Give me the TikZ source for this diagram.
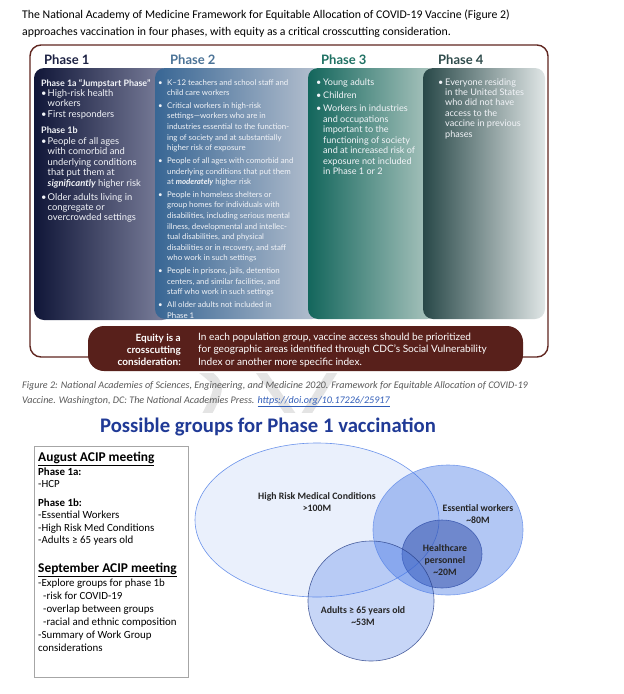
\documentclass[tikz,border=0pt]{standalone}
\usepackage{fontspec}
\setmainfont{Carlito}
\newfontfamily\lato{Lato}
\usetikzlibrary{calc}
\newcommand\fsz[2]{\fontsize{#1}{#2}\selectfont}
\newcommand\bu[1][6.5pt]{\makebox[#1][l]{•}}
\newcommand\ind[1][6.5pt]{\hspace*{#1}}
\newcommand\mlines[2][l]{\begin{tabular}[t]{@{}#1@{}}#2\end{tabular}}
\definecolor{framec}{RGB}{96,38,32}
\definecolor{barc}{RGB}{88,32,27}
\definecolor{h1c}{RGB}{28,33,67}
\definecolor{h2c}{RGB}{75,115,151}
\definecolor{h3c}{RGB}{31,113,99}
\definecolor{h4c}{RGB}{47,76,76}
\definecolor{p1l}{RGB}{16,22,56}
\definecolor{p1m}{RGB}{36,42,80}
\definecolor{p1r}{RGB}{128,132,160}
\definecolor{p2l}{RGB}{56,102,148}
\definecolor{p2m}{RGB}{100,134,170}
\definecolor{p2r}{RGB}{184,194,208}
\definecolor{p3l}{RGB}{19,102,92}
\definecolor{p3m}{RGB}{52,124,114}
\definecolor{p3r}{RGB}{176,200,194}
\definecolor{p4l}{RGB}{40,72,72}
\definecolor{p4m}{RGB}{62,92,92}
\definecolor{p4r}{RGB}{224,230,230}
\definecolor{tiletxt}{RGB}{242,244,248}
\definecolor{capc}{RGB}{89,89,89}
\definecolor{linkc}{RGB}{47,92,184}
\definecolor{titlec}{RGB}{32,58,150}
\definecolor{venb}{RGB}{70,120,230}
\definecolor{venh}{RGB}{50,80,170}
\definecolor{vtxt}{RGB}{38,38,38}
\definecolor{wmark}{RGB}{228,228,228}
\tikzset{
  tiletext/.style={anchor=base west, inner sep=0pt, text=tiletxt},
  hdr/.style={anchor=base west, inner sep=0pt, font=\lato\bfseries\fsz{13}{15}},
  boxtxt/.style={anchor=base west, inner sep=0pt, font=\fsz{10.9}{13}, text=black},
  boxhead/.style={boxtxt, font=\bfseries\fsz{13.4}{15}},
  boxsub/.style={boxtxt, font=\bfseries\fsz{10.9}{13}},
  vlab/.style={anchor=base, inner sep=0pt, font=\bfseries\fsz{9.8}{11.8}, text=vtxt},
  wm/.style={wmark, line width=9pt},
}
\begin{document}
\begin{tikzpicture}[x=1pt,y=-1pt]
\useasboundingbox (0,0) rectangle (624,694);
\fill[white] (0,0) rectangle (624,694);

% faint watermark behind the caption
\begin{scope}
\clip (150,373) rectangle (360,412);
\draw[wm] (200,368) .. controls (222,385) .. (206,416);
\draw[wm] (258,368) -- (292,416);
\draw[wm] (335,368) -- (305,416);
\end{scope}

% intro text
\node[anchor=base west, inner sep=0pt, font=\fsz{11.8}{17}] (intro) at (22,18)
  {\mlines{The National Academy of Medicine Framework for Equitable Allocation of COVID-19 Vaccine (Figure 2)\\
   approaches vaccination in four phases, with equity as a critical crosscutting consideration.}};

% frame
\draw[framec, line width=1.4pt, rounded corners=11pt] (30,45) rectangle (548,357);

% headers
\node[hdr, text=h1c] (h1) at (44,64) {Phase 1};
\node[hdr, text=h2c] (h2) at (170,64) {Phase 2};
\node[hdr, text=h3c] (h3) at (321,64) {Phase 3};
\node[hdr, text=h4c] (h4) at (438,64) {Phase 4};

% tiles
\shade[left color=p1l, middle color=p1m, right color=p1r, rounded corners=10pt] (34,68) rectangle (172,320);
\shade[left color=p2l, middle color=p2m, right color=p2r, rounded corners=10pt] (155,68) rectangle (322,319);
\shade[left color=p3l, middle color=p3m, right color=p3r, rounded corners=10pt] (308,68) rectangle (437,319);
\shade[left color=p4l, middle color=p4m, right color=p4r, rounded corners=10pt] (423,68) rectangle (545,319);

% phase 1 text
\node[tiletext, font=\lato\bfseries\fsz{8.9}{10}] (p1a) at (41,86) {Phase 1a “Jumpstart Phase”};
\node[tiletext, font=\lato\fsz{9.4}{10.3}] (p1b) at (41,96.5)
  {\mlines{\bu High-risk health\\ \ind workers\\[0.8pt] \bu First responders}};
\node[tiletext, font=\lato\bfseries\fsz{9}{10}] (p1c) at (41,133) {Phase 1b};
\node[tiletext, font=\lato\fsz{9.4}{10.4}] (p1d) at (41,144.5)
  {\mlines{\bu People of all ages\\ \ind with comorbid and\\ \ind underlying conditions\\ \ind that put them at\\
   \ind{\bfseries\itshape significantly} higher risk\\[3.5pt]
   \bu Older adults living in\\ \ind congregate or\\ \ind overcrowded settings}};

% phase 2 text
\node[tiletext, font=\lato\fsz{7.85}{10.55}] (p2) at (158,85)
  {\mlines{\bu[9pt]K–12 teachers and school staff and\\ \ind[9pt]child care workers\\[2.3pt]
   \bu[9pt]Critical workers in high-risk\\ \ind[9pt]settings—workers who are in\\
   \ind[9pt]industries essential to the function-\\ \ind[9pt]ing of society and at substantially\\
   \ind[9pt]higher risk of exposure\\[2.3pt]
   \bu[9pt]People of all ages with comorbid and\\ \ind[9pt]underlying conditions that put them\\
   \ind[9pt]at {\bfseries\itshape moderately} higher risk\\[2.3pt]
   \bu[9pt]People in homeless shelters or\\ \ind[9pt]group homes for individuals with\\
   \ind[9pt]disabilities, including serious mental\\ \ind[9pt]illness, developmental and intellec-\\
   \ind[9pt]tual disabilities, and physical\\ \ind[9pt]disabilities or in recovery, and staff\\
   \ind[9pt]who work in such settings\\[2.3pt]
   \bu[9pt]People in prisons, jails, detention\\ \ind[9pt]centers, and similar facilities, and\\
   \ind[9pt]staff who work in such settings\\[2.3pt]
   \bu[9pt]All older adults not included in\\ \ind[9pt]Phase 1}};

% phase 3 text
\node[tiletext, font=\lato\fsz{9.1}{10.5}] (p3) at (316,85)
  {\mlines{\bu[7pt]Young adults\\[2.6pt] \bu[7pt]Children\\[3.2pt]
   \bu[7pt]Workers in industries\\ \ind[7pt]and occupations\\ \ind[7pt]important to the\\
   \ind[7pt]functioning of society\\ \ind[7pt]and at increased risk of\\
   \ind[7pt]exposure not included\\ \ind[7pt]in Phase 1 or 2}};

% phase 4 text
\node[tiletext, font=\lato\fsz{9.1}{10.45}] (p4) at (438,85)
  {\mlines{\bu[7pt]Everyone residing\\ \ind[7pt]in the United States\\ \ind[7pt]who did not have\\
   \ind[7pt]access to the\\ \ind[7pt]vaccine in previous\\ \ind[7pt]phases}};

% equity bar
\fill[barc, rounded corners=16pt] (88,326) rectangle (523,371);
\node[anchor=base east, inner sep=0pt, text=white, font=\lato\bfseries\fsz{10}{12.4}] (eqa) at (181,341)
  {\mlines[r]{Equity is a\\ crosscutting\\ consideration:}};
\node[anchor=base west, inner sep=0pt, text=white, font=\lato\fsz{10.1}{12.4}] (eqb) at (198,340.5)
  {\mlines{In each population group, vaccine access should be prioritized\\
   for geographic areas identified through CDC’s Social Vulnerability\\
   Index or another more specific index.}};

% caption
\node[anchor=base west, inner sep=0pt, text=capc, font=\itshape\fsz{10.1}{15}] (cap) at (22,388)
  {\mlines{Figure 2: National Academies of Sciences, Engineering, and Medicine 2020. Framework for Equitable Allocation of COVID-19\\
   Vaccine. Washington, DC: The National Academies Press. {\color{linkc}\underline{https://doi.org/10.17226/25917}}}};

% title
\node[anchor=base, inner sep=0pt, text=titlec, font=\bfseries\fsz{20.7}{24}] (title) at (268,432)
  {Possible groups for Phase 1 vaccination};

% left box
\draw[gray!70, line width=0.8pt] (34,446) rectangle (188,677);
\node[boxhead] (aug) at (38,461.5) {\underline{August ACIP meeting}};
\node[boxsub] (ph1a) at (38,475.5) {Phase 1a:};
\node[boxtxt] (hcp) at (38,487.5) {-HCP};
\node[boxsub] (ph1b) at (38,506) {Phase 1b:};
\node[boxtxt] (ess) at (38,518) {-Essential Workers};
\node[boxtxt] (hr) at (38,531.5) {-High Risk Med Conditions};
\node[boxtxt] (ad) at (38,543) {-Adults ≥ 65 years old};
\node[boxhead] (sep) at (38,572.5) {\underline{September ACIP meeting}};
\node[boxtxt] (exp) at (38,586.5) {-Explore groups for phase 1b};
\node[boxtxt] (risk) at (38,599) {\hspace*{5pt}-risk for COVID-19};
\node[boxtxt] (ovl) at (38,612) {\hspace*{5pt}-overlap between groups};
\node[boxtxt] (rac) at (38,625) {\hspace*{5pt}-racial and ethnic composition};
\node[boxtxt] (sum) at (38,638) {-Summary of Work Group};
\node[boxtxt] (cons) at (38,651) {considerations};

% venn
\fill[venb, fill opacity=0.11] (317,520) ellipse [x radius=122pt, y radius=77pt];
\draw[venb!80!white, line width=0.6pt] (317,520) ellipse [x radius=122pt, y radius=77pt];
\fill[venb, fill opacity=0.41] (448,530) ellipse [x radius=75pt, y radius=65pt];
\draw[venb!85!white, line width=0.6pt, draw opacity=0.8] (448,530) ellipse [x radius=75pt, y radius=65pt];
\fill[venh, fill opacity=0.52] (442,554) ellipse [x radius=40pt, y radius=34pt];
\draw[venh, line width=0.6pt, draw opacity=0.8] (442,554) ellipse [x radius=40pt, y radius=34pt];
\fill[venb, fill opacity=0.30] (371,601) ellipse [x radius=63pt, y radius=60pt];
\draw[venh!80!black, line width=0.6pt, draw opacity=0.8] (371,601) ellipse [x radius=63pt, y radius=60pt];

\node[vlab] (hrm) at (317,499.5) {\mlines[c]{High Risk Medical Conditions\\ >100M}};
\node[vlab] (ew) at (478,511.5) {\mlines[c]{Essential workers\\ \textasciitilde80M}};
\node[vlab] (hcpv) at (445,551.5) {\mlines[c]{Healthcare\\ personnel\\ \textasciitilde20M}};
\node[vlab] (a65) at (363,613.5) {\mlines[c]{Adults ≥ 65 years old\\ \textasciitilde53M}};
\end{tikzpicture}
\end{document}
